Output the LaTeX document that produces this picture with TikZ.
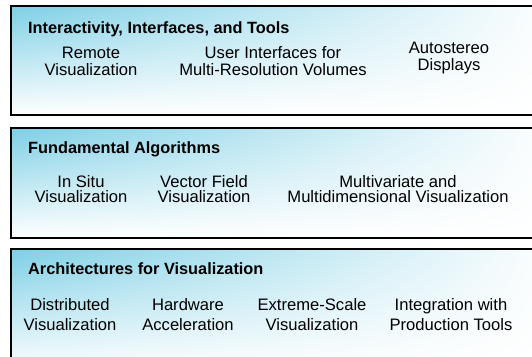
\documentclass[tikz,border=0pt]{standalone}
\usepackage{fontspec}
\setmainfont{Liberation Sans}
\usetikzlibrary{shadings}
\definecolor{panelblue}{RGB}{125,207,229}
\tikzset{
  panel/.style={draw=black,line width=1.8pt},
  paneltitle/.style={anchor=west,inner sep=0pt,font=\bfseries\fontsize{16.3}{18}\selectfont},
  topic/.style={align=center,inner sep=0pt,font=\fontsize{16.6}{#1}\selectfont},
  topic/.default=16.8
}
\begin{document}
\begin{tikzpicture}[x=1pt,y=-1pt]
\useasboundingbox (0,0) rectangle (532,356);
\clip (0,0) rectangle (532,356);
% the three panels, open to the right
\foreach \top/\bot in {6/115,128/238,249/372}{
  \shade[upper left=panelblue,upper right=white,lower left=white,lower right=white] (11,\top) rectangle (560,\bot);
  \draw[panel] (11,\top) rectangle (560,\bot);
}
% top panel
\node[paneltitle] (tools) at (28,29) {Interactivity, Interfaces, and Tools};
\node[topic] (remote) at (91,61) {Remote\\Visualization};
\node[topic] (userif) at (273,61) {User Interfaces for\\Multi-Resolution Volumes};
\node[topic] (autostereo) at (449,58) {Autostereo\\Displays};
% middle panel
\node[paneltitle] (algorithms) at (28,149) {Fundamental Algorithms};
\node[topic=15.8] (insitu) at (81,189) {In Situ\\Visualization};
\node[topic=15.8] (vectorfield) at (204,189) {Vector Field\\Visualization};
\node[topic=15.8] (multivariate) at (398,189) {Multivariate and\\Multidimensional Visualization};
% bottom panel
\node[paneltitle] (architectures) at (28,269) {Architectures for Visualization};
\node[topic=20] (distributed) at (70,315) {Distributed\\Visualization};
\node[topic=20] (hardware) at (188,315) {Hardware\\Acceleration};
\node[topic=20] (extreme) at (312,315) {Extreme-Scale\\Visualization};
\node[topic=20] (production) at (451,315) {Integration with\\Production Tools};
\end{tikzpicture}
\end{document}
